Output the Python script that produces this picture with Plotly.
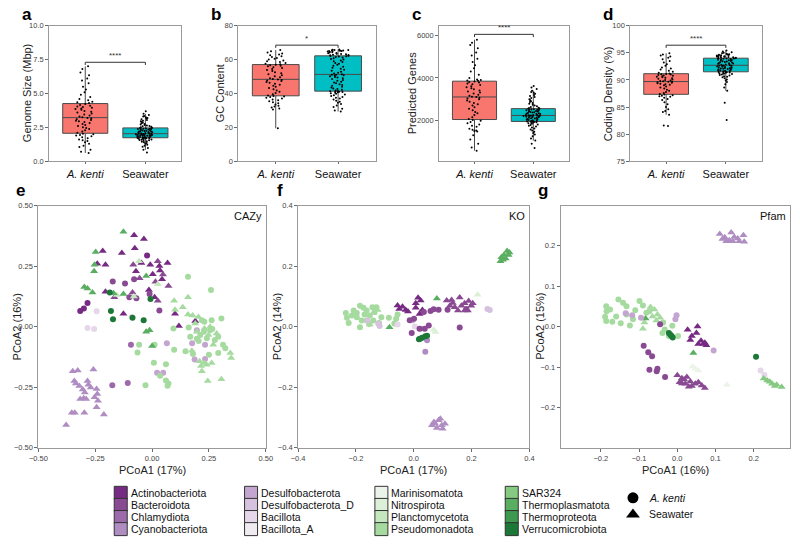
import plotly.graph_objects as go

W, H = 800, 547
FONT = "Liberation Sans, Arial, sans-serif"

# ---------------- categories / styles ----------------
habitats = ["A. kenti", "Seawater"]
habitat_fill = ["#F8766D", "#00BFC4"]
habitat_symbol = ["circle", "triangle-up"]
habitat_size = [6, 7]

phyla = ["Actinobacteriota", "Bacteroidota", "Chlamydiota", "Cyanobacteriota",
         "Desulfobacterota", "Desulfobacterota_D", "Bacillota", "Bacillota_A",
         "Marinisomatota", "Nitrospirota", "Planctomycetota", "Pseudomonadota",
         "SAR324", "Thermoplasmatota", "Thermoproteota", "Verrucomicrobiota"]
phylum_colors = ["#762a83", "#8a4a93", "#9c6aaa", "#af8dc3",
                 "#c3a5d0", "#d6c1de", "#e6d6e9", "#f0eaf1",
                 "#ecf4ea", "#dbf0d6", "#c4e7bd", "#a6dba0",
                 "#86c982", "#5aae61", "#3d9850", "#1b7837"]

# ---------------- box plot data ----------------
genome_kenti = [0.62, 0.70, 0.85, 1.05, 1.15, 1.30, 1.40, 1.50, 1.55, 1.62, 1.70, 1.78, 1.85, 1.90, 1.95, 2.00, 2.04,
                2.10, 2.2, 2.3, 2.38, 2.45, 2.52, 2.6, 2.68, 2.75, 2.82, 2.9, 2.95, 3.0, 3.05, 3.1, 3.15, 3.2,
                3.25, 3.3, 3.38, 3.45, 3.52, 3.6, 3.65, 3.72, 3.8, 3.85, 3.9, 3.95, 4.0, 4.05, 4.1, 4.15, 4.22,
                4.3, 4.35, 4.4, 4.5, 4.6, 4.75, 4.9, 5.1, 5.3, 5.5, 5.75, 5.95, 6.1, 6.35, 6.55, 6.8, 7.0]
genome_sea = [0.65, 0.85, 0.98, 1.08, 1.15, 1.22, 1.3, 1.35, 1.4, 1.45, 1.48, 1.52, 1.55, 1.58, 1.6, 1.62, 1.64, 1.66, 1.68, 1.69, 1.7, 1.71, 1.72, 1.73,
              1.75, 1.76, 1.78, 1.79, 1.8, 1.82, 1.83, 1.85, 1.86, 1.88, 1.89, 1.9, 1.92, 1.93, 1.94, 1.95, 1.96, 1.97, 1.98, 1.99, 2.0, 2.01, 2.02, 2.03,
              2.05, 2.07, 2.09, 2.1, 2.12, 2.14, 2.16, 2.18, 2.2, 2.22, 2.24, 2.26, 2.28, 2.3, 2.32, 2.34, 2.36, 2.38, 2.39, 2.4, 2.41, 2.43, 2.44, 2.45,
              2.48, 2.52, 2.55, 2.58, 2.6, 2.64, 2.68, 2.72, 2.75, 2.8, 2.85, 2.9, 2.95, 3.0, 3.05, 3.1, 3.15, 3.2, 3.25, 3.3, 3.35, 3.42, 3.5, 3.7]

gc_kenti = [19.5, 30.5, 31.2, 31.8, 32.3, 32.8, 33.5, 34.2, 34.8, 35.5, 36.0, 36.5, 37.0, 37.5, 37.9, 38.2, 38.5,
            38.8, 39.5, 40.3, 41.0, 41.8, 42.5, 43.2, 44.0, 44.6, 45.2, 45.8, 46.3, 46.8, 47.3, 47.7, 48.0, 48.2,
            48.5, 49.0, 49.6, 50.2, 50.8, 51.4, 52.0, 52.6, 53.2, 53.8, 54.4, 55.0, 55.5, 56.0, 56.4, 56.7, 56.9,
            57.2, 57.6, 58.0, 58.5, 59.0, 59.5, 60.0, 60.5, 61.0, 61.5, 62.0, 62.5, 63.0, 63.6, 64.2, 64.9, 65.6]
gc_sea = [29.4, 30.0, 31.0, 32.0, 33.0, 33.8, 34.5, 35.2, 35.8, 36.4, 37.0, 37.5, 38.0, 38.5, 39.0, 39.4, 39.8, 40.1, 40.4, 40.7, 40.9, 41.1, 41.2, 41.3,
          41.5, 41.8, 42.2, 42.6, 43.0, 43.5, 44.0, 44.5, 45.0, 45.5, 46.0, 46.5, 47.0, 47.5, 48.0, 48.5, 49.0, 49.4, 49.8, 50.2, 50.5, 50.8, 51.0, 51.1,
          51.4, 51.8, 52.3, 52.8, 53.4, 54.0, 54.6, 55.2, 55.8, 56.4, 57.0, 57.5, 58.0, 58.5, 59.0, 59.5, 60.0, 60.4, 60.8, 61.2, 61.5, 61.8, 62.0, 62.1,
          62.3, 62.5, 62.7, 62.9, 63.1, 63.3, 63.5, 63.7, 63.9, 64.1, 64.3, 64.5, 64.7, 64.9, 65.0, 65.1, 65.2, 65.3, 65.4, 65.5, 65.6, 65.7, 65.8, 66.0]

genes_kenti = [575, 720, 900, 1100, 1300, 1480, 1500, 1520, 1560, 1600, 1700, 1750, 1800, 1860, 1920, 1980, 2020,
               2060, 2150, 2250, 2330, 2400, 2480, 2550, 2620, 2700, 2760, 2820, 2880, 2940, 2990, 3030, 3070, 3095,
               3110, 3160, 3210, 3260, 3310, 3360, 3410, 3460, 3510, 3560, 3610, 3660, 3700, 3740, 3780, 3810, 3830,
               3860, 3880, 3900, 3920, 4000, 4150, 4300, 4450, 4600, 4750, 4900, 5050, 5200, 5400, 5550, 5650, 5800]
genes_sea = [700, 900, 1050, 1150, 1250, 1330, 1400, 1460, 1520, 1570, 1620, 1670, 1710, 1750, 1780, 1810, 1840, 1860, 1880, 1900, 1915, 1925, 1935, 1945,
             1955, 1970, 1985, 2000, 2015, 2030, 2045, 2060, 2075, 2090, 2105, 2120, 2135, 2150, 2160, 2170, 2180, 2190, 2200, 2208, 2215, 2220, 2225, 2228,
             2235, 2245, 2255, 2265, 2280, 2295, 2310, 2325, 2340, 2355, 2370, 2385, 2400, 2415, 2430, 2445, 2460, 2475, 2490, 2505, 2515, 2525, 2535, 2545,
             2560, 2580, 2600, 2630, 2660, 2700, 2740, 2780, 2820, 2860, 2900, 2950, 3000, 3050, 3100, 3150, 3200, 3250, 3300, 3330, 3400, 3480, 3550, 3620]

coding_kenti = [81.5, 81.6, 83.6, 84.1, 84.3, 84.6, 85.0, 85.5, 85.9, 86.3, 86.5, 86.7, 86.9, 87.0, 87.1, 87.2, 87.3,
                87.4, 87.6, 87.8, 88.0, 88.2, 88.4, 88.6, 88.8, 89.0, 89.1, 89.2, 89.3, 89.4, 89.5, 89.55, 89.6, 89.65,
                89.75, 89.8, 89.9, 90.0, 90.1, 90.2, 90.3, 90.4, 90.5, 90.6, 90.7, 90.75, 90.8, 90.9, 91.0, 91.05, 91.1,
                91.2, 91.3, 91.5, 91.7, 91.9, 92.1, 92.3, 92.6, 92.9, 93.2, 93.5, 93.8, 94.1, 94.3, 94.5, 94.7, 94.9]
coding_sea = [82.6, 85.8, 88.0, 88.6, 89.2, 89.6, 89.9, 90.1, 90.3, 90.5, 90.6, 90.7, 90.8, 90.9, 91.0, 91.1, 91.15, 91.2, 91.25, 91.3, 91.35, 91.4, 91.45, 91.48,
              91.52, 91.6, 91.65, 91.7, 91.75, 91.8, 91.85, 91.9, 91.95, 92.0, 92.05, 92.1, 92.15, 92.2, 92.25, 92.3, 92.35, 92.4, 92.45, 92.5, 92.55, 92.6, 92.65, 92.68,
              92.72, 92.78, 92.84, 92.9, 92.96, 93.02, 93.08, 93.14, 93.2, 93.26, 93.32, 93.38, 93.44, 93.5, 93.56, 93.62, 93.68, 93.74, 93.8, 93.85, 93.9, 93.94, 93.97, 93.99,
              94.02, 94.06, 94.1, 94.14, 94.18, 94.22, 94.26, 94.3, 94.34, 94.38, 94.42, 94.46, 94.5, 94.55, 94.6, 94.65, 94.7, 94.75, 94.8, 94.9, 95.0, 95.1, 95.25, 95.4]

box_titles = ["Genome Size (Mbp)", "GC Content", "Predicted Genes", "Coding Density (%)"]
box_letters = ["a", "b", "c", "d"]
box_ranges = [[0, 10], [0, 80], [70, 6460], [75, 100]]
box_ticks = [[0, 2.5, 5, 7.5, 10], [0, 20, 40, 60, 80], [2000, 4000, 6000], [75, 80, 85, 90, 95, 100]]
box_tickfmt = [".1f", "d", "d", "d"]
sig_y = [7.3, 68.5, 6050, 96.4]
sig_label = ["****", "*", "****", "****"]

# ---------------- PCoA data: (phylum index, habitat index, [(PCoA1, PCoA2), ...]) ----------------
cazy_pts = [
    (0, 1, [(-0.079, 0.378), (-0.036, 0.362), (-0.133, 0.304), (-0.217, 0.313), (-0.241, 0.260), (-0.205, 0.256),
            (-0.076, 0.324), (-0.047, 0.263), (-0.071, 0.229), (-0.008, 0.256), (0.032, 0.250), (0.035, 0.232),
            (0.068, 0.263), (0.003, 0.216), (0.044, 0.196), (-0.014, 0.151), (0.011, 0.121), (-0.205, 0.144),
            (-0.126, 0.053), (0.101, 0.053), (0.118, 0.003), (0.190, 0.023)]),
    (1, 1, [(-0.083, 0.256), (0.025, 0.270), (0.072, 0.168), (0.025, 0.107), (-0.166, 0.121), (-0.086, 0.141),
            (0.048, 0.215), (-0.055, 0.200), (0.015, 0.185)]),
    (0, 0, [(-0.316, 0.064), (-0.300, 0.075), (-0.284, 0.098), (-0.022, 0.294)]),
    (1, 0, [(-0.173, 0.186), (-0.119, 0.178), (-0.079, 0.196), (-0.100, 0.121), (-0.069, 0.117), (-0.011, 0.135),
            (0.032, 0.067)]),
    (2, 0, [(-0.175, -0.242), (-0.107, -0.233), (-0.093, -0.075)]),
    (3, 1, [(-0.349, -0.184), (-0.327, -0.181), (-0.342, -0.225), (-0.335, -0.235), (-0.320, -0.245), (-0.284, -0.225),
            (-0.280, -0.240), (-0.258, -0.177), (-0.270, -0.252), (-0.244, -0.258), (-0.241, -0.279), (-0.296, -0.272),
            (-0.301, -0.296), (-0.316, -0.299), (-0.290, -0.299), (-0.253, -0.292), (-0.238, -0.306), (-0.244, -0.333),
            (-0.353, -0.356), (-0.340, -0.356), (-0.298, -0.356), (-0.212, -0.363), (-0.378, -0.407), (-0.305, -0.260)]),
    (4, 0, [(0.022, -0.191), (0.049, -0.191), (0.065, -0.069), (0.176, -0.069), (0.197, -0.015), (0.233, -0.075),
            (0.233, -0.134), (0.187, -0.136)]),
    (6, 0, [(-0.284, -0.006), (-0.255, -0.010), (-0.244, 0.063), (-0.090, 0.040)]),
    (11, 0, [(0.158, 0.206), (0.259, 0.151), (0.305, 0.033), (0.094, -0.008), (0.161, -0.004), (0.219, 0.026),
             (0.230, 0.020), (0.262, 0.026), (0.265, -0.010), (0.255, -0.015), (0.228, -0.021), (0.212, -0.035),
             (0.168, -0.042), (0.197, -0.050), (0.241, -0.048), (0.276, -0.055), (0.291, -0.042), (0.312, -0.075),
             (0.322, -0.089), (0.291, -0.109), (0.250, -0.116), (0.180, -0.113), (0.147, -0.102), (0.097, -0.096),
             (0.011, -0.075), (-0.057, -0.075), (-0.064, -0.107), (0.008, -0.149), (0.061, -0.156), (0.035, -0.203),
             (0.061, -0.223), (0.068, -0.244), (0.072, -0.235), (-0.029, -0.242), (0.205, -0.060)]),
    (11, 1, [(0.158, 0.121), (0.135, 0.080), (0.158, 0.050), (0.178, 0.046), (0.204, 0.040), (0.190, 0.013),
             (0.197, -0.021), (0.230, -0.008), (0.255, -0.001), (0.248, -0.035), (0.284, -0.028), (0.269, -0.075),
             (0.262, -0.150), (0.209, -0.143), (0.230, -0.150), (0.240, -0.158), (0.219, -0.184), (0.245, -0.225),
             (0.305, -0.218), (0.344, -0.109), (0.348, -0.130), (0.215, -0.163), (0.175, -0.100), (0.097, 0.107),
             (0.101, 0.070)]),
    (10, 1, [(-0.080, 0.124), (-0.155, 0.131), (-0.057, 0.270), (0.025, 0.175)]),
    (13, 1, [(-0.126, 0.392), (-0.248, 0.308), (-0.253, 0.256), (-0.255, 0.229), (-0.298, 0.164), (-0.284, 0.158),
             (-0.262, 0.141), (-0.126, 0.135), (-0.169, 0.138), (-0.026, -0.021), (-0.011, -0.015), (0.000, -0.080),
             (-0.026, 0.209)]),
    (15, 0, [(-0.186, 0.141), (-0.181, 0.064), (-0.172, 0.030), (-0.086, 0.037), (-0.037, 0.026), (-0.007, 0.114)]),
]

ko_pts = [
    (11, 0, [(-0.231, 0.029), (-0.225, 0.012), (-0.208, 0.053), (-0.197, 0.031), (-0.186, 0.069), (-0.174, 0.062),
             (-0.180, 0.020), (-0.163, 0.053), (-0.152, 0.037), (-0.143, 0.064), (-0.135, 0.048), (-0.129, 0.064),
             (-0.186, -0.002), (-0.154, 0.009), (-0.112, 0.031), (-0.086, 0.029), (-0.061, 0.026), (-0.067, 0.010),
             (-0.056, 0.040), (-0.197, 0.045), (-0.214, 0.037), (-0.163, 0.020), (-0.140, 0.020), (-0.120, 0.012),
             (-0.235, 0.045), (-0.170, 0.040)]),
    (11, 1, [(-0.152, 0.007), (-0.140, 0.045), (-0.125, 0.055)]),
    (13, 1, [(-0.084, -0.002), (0.080, 0.093), (0.312, 0.237), (0.303, 0.229), (0.323, 0.250), (0.328, 0.237),
             (0.309, 0.221), (0.318, 0.225), (0.300, 0.216), (0.331, 0.245)]),
    (9, 1, [(0.069, -0.010), (0.075, -0.018), (0.221, 0.105)]),
    (5, 0, [(-0.123, 0.010), (-0.118, 0.002), (-0.160, 0.020), (0.255, 0.058), (0.263, 0.055)]),
    (6, 0, [(-0.056, 0.007), (0.004, 0.000)]),
    (4, 0, [(-0.005, 0.021), (0.024, -0.007)]),
    (0, 1, [(-0.050, 0.058), (-0.039, 0.066), (-0.028, 0.055), (-0.056, 0.070), (0.007, 0.077), (0.024, 0.086),
            (0.007, 0.062), (0.030, 0.055), (0.020, 0.042), (-0.020, 0.050), (0.015, 0.095)]),
    (1, 1, [(0.114, 0.086), (0.131, 0.088), (0.159, 0.096), (0.165, 0.069), (0.176, 0.077), (0.187, 0.053),
            (0.199, 0.069), (0.142, 0.064), (0.125, 0.069), (0.153, 0.053), (0.204, 0.077), (0.176, 0.053),
            (0.135, 0.078), (0.190, 0.085)]),
    (1, 0, [(0.001, 0.026), (0.035, 0.048), (0.052, 0.004), (0.069, 0.057), (0.086, 0.056), (0.058, 0.052),
            (-0.007, -0.021), (0.020, -0.007), (0.038, -0.007), (0.159, -0.003), (-0.014, 0.021), (0.117, 0.056),
            (0.182, 0.058)]),
    (3, 0, [(0.046, -0.045), (0.040, -0.083)]),
    (15, 0, [(0.018, -0.042), (0.029, -0.037), (0.040, -0.032), (0.046, -0.030), (0.022, -0.040)]),
    (3, 1, [(0.074, -0.321), (0.086, -0.310), (0.097, -0.326), (0.063, -0.326), (0.108, -0.321), (0.080, -0.335),
            (0.092, -0.305), (0.070, -0.315), (0.100, -0.338)]),
]

pfam_pts = [
    (3, 1, [(0.111, 0.228), (0.124, 0.220), (0.141, 0.232), (0.149, 0.221), (0.136, 0.213), (0.158, 0.217),
            (0.173, 0.225), (0.175, 0.209), (0.128, 0.210), (0.118, 0.216), (0.162, 0.210), (0.145, 0.210)]),
    (11, 0, [(-0.186, 0.050), (-0.185, 0.038), (-0.189, 0.024), (-0.186, 0.014), (-0.176, 0.042), (-0.154, 0.067),
             (-0.142, 0.059), (-0.133, 0.050), (-0.148, 0.008), (-0.133, 0.030), (-0.124, 0.003), (-0.116, 0.018),
             (-0.099, 0.063), (-0.090, 0.052), (-0.073, 0.038), (-0.081, 0.034), (-0.039, -0.016), (-0.033, -0.007),
             (-0.022, -0.023), (0.002, -0.023), (-0.037, 0.010), (-0.013, 0.002), (-0.160, 0.025), (-0.170, 0.012),
             (-0.110, 0.040)]),
    (11, 1, [(-0.086, 0.010), (-0.090, -0.005), (-0.060, 0.042), (-0.052, 0.030), (-0.045, 0.022), (-0.065, 0.025),
             (-0.070, 0.048), (-0.055, 0.015)]),
    (13, 1, [(-0.083, 0.020), (0.042, -0.065)]),
    (4, 0, [(-0.135, 0.033), (-0.118, 0.028), (-0.095, 0.022), (-0.002, 0.028), (-0.005, 0.018), (0.095, -0.059)]),
    (6, 0, [(0.218, -0.108), (0.228, -0.119)]),
    (0, 1, [(0.027, -0.008), (0.053, 0.000), (0.038, -0.023), (0.050, -0.016), (0.034, -0.033), (0.062, -0.035),
            (0.068, -0.043), (0.072, -0.040), (0.055, -0.043), (0.076, -0.046)]),
    (1, 0, [(-0.088, -0.047), (-0.076, -0.063), (-0.066, -0.073), (-0.073, -0.106), (-0.052, -0.104), (-0.054, -0.110),
            (-0.032, -0.124), (-0.045, 0.006)]),
    (1, 1, [(0.000, -0.120), (0.012, -0.127), (0.025, -0.124), (0.006, -0.137), (0.021, -0.141), (0.034, -0.135),
            (0.047, -0.141), (0.055, -0.137), (0.064, -0.145), (0.072, -0.151), (0.038, -0.146), (0.012, -0.140),
            (0.030, -0.148), (0.018, -0.130)]),
    (15, 0, [(-0.022, -0.016), (-0.015, -0.023), (-0.012, -0.027), (-0.018, -0.020), (0.206, -0.074)]),
    (8, 1, [(0.047, -0.104), (0.055, -0.108), (0.130, -0.143), (0.040, -0.098)]),
    (12, 1, [(0.226, -0.128), (0.235, -0.133), (0.248, -0.141), (0.260, -0.143), (0.273, -0.149), (0.242, -0.136),
             (0.255, -0.146)]),
]

pcoa_sets = [cazy_pts, ko_pts, pfam_pts]
pcoa_names = ["CAZy", "KO", "Pfam"]
pcoa_letters = ["e", "f", "g"]
pcoa_xtitles = ["PCoA1 (17%)", "PCoA1 (17%)", "PCoA1 (16%)"]
pcoa_ytitles = ["PCoA2 (16%)", "PCoA2 (14%)", "PCoA2 (15%)"]
pcoa_xrange = [[-0.5, 0.5], [-0.4, 0.4], [-0.305, 0.295]]
pcoa_yrange = [[-0.5, 0.5], [-0.4, 0.4], [-0.298, 0.298]]
pcoa_ticks = [[-0.5, -0.25, 0, 0.25, 0.5], [-0.4, -0.2, 0, 0.2, 0.4], [-0.2, -0.1, 0, 0.1, 0.2]]
pcoa_tickfmt = [".2f", ".1f", ".1f"]

# ---------------- layout geometry (pixels) ----------------
box_x_px = [(41, 176), (234, 374), (439, 571), (634, 768)]
box_title_px = [18, 215, 411, 611]
box_y_px = (22, 160)
pcoa_x_px = [(30, 262), (295, 531), (563, 797)]
pcoa_y_px = (205, 451)


def xd(a, b):
    return [a / W, b / W]


def yd(top, bot):
    return [1 - bot / H, 1 - top / H]


def paper_text(px, py, text, size, angle=0, color="#222"):
    return dict(x=px / W, y=1 - py / H, xref="paper", yref="paper", text=text, textangle=angle,
                showarrow=False, xanchor="center", yanchor="middle",
                font=dict(size=size, color=color))


def axis_common():
    return dict(showline=True, mirror=True, linecolor="#9a9a9a", linewidth=1,
                ticks="outside", ticklen=3, tickcolor="#6a6a6a", tickwidth=1,
                tickfont=dict(size=7.5, color="#444", family=FONT),
                showgrid=False, zeroline=False)


fig = go.Figure()
layout = dict(width=W, height=H, margin=dict(l=0, r=0, t=0, b=0),
              paper_bgcolor="white", plot_bgcolor="white", showlegend=False,
              font=dict(family=FONT, color="#222"))
annotations = []
shapes = []

box_data = [(genome_kenti, genome_sea), (gc_kenti, gc_sea), (genes_kenti, genes_sea), (coding_kenti, coding_sea)]

for i in range(4):
    n = i + 1
    xa, ya = ("x" if n == 1 else f"x{n}"), ("y" if n == 1 else f"y{n}")
    xk, yk = ("xaxis" if n == 1 else f"xaxis{n}"), ("yaxis" if n == 1 else f"yaxis{n}")
    for h in range(2):
        vals = box_data[i][h]
        fig.add_trace(go.Box(y=vals, x0=h + 1, width=0.75, boxpoints="all", jitter=0.45, pointpos=0,
                             fillcolor=habitat_fill[h], line=dict(color="#4a4a4a", width=1),
                             whiskerwidth=0, marker=dict(color="black", size=2),
                             xaxis=xa, yaxis=ya, showlegend=False, hoverinfo="skip"))
    ax = axis_common()
    ax.update(domain=xd(*box_x_px[i]), range=[0.4, 2.6], tickvals=[1, 2],
              ticktext=["<i>" + habitats[0] + "</i>", habitats[1]], anchor=ya,
              tickfont=dict(size=11, color="#111", family=FONT), ticklen=2)
    layout[xk] = ax
    ay = axis_common()
    ay.update(domain=yd(*box_y_px), range=box_ranges[i], tickvals=box_ticks[i],
              tickformat=box_tickfmt[i], anchor=xa)
    layout[yk] = ay
    # significance bracket
    rng = box_ranges[i][1] - box_ranges[i][0]
    tip = 0.02 * rng
    s = sig_y[i]
    shapes.append(dict(type="path", xref=xa, yref=ya,
                       path=f"M 1,{s - tip} L 1,{s} L 2,{s} L 2,{s - tip}",
                       line=dict(color="#333", width=1)))
    annotations.append(dict(x=1.5, y=s, xref=xa, yref=ya, text=sig_label[i], showarrow=False,
                            xanchor="center", yanchor="bottom", yshift=0, font=dict(size=8, color="#333")))
    annotations.append(paper_text(box_title_px[i], (box_y_px[0] + box_y_px[1]) / 2, box_titles[i], 11, -90))
    annotations.append(paper_text(box_x_px[i][0] - 23, 11, "<b>" + box_letters[i] + "</b>", 17, 0, "#000"))

for j in range(3):
    n = j + 5
    xa, ya = f"x{n}", f"y{n}"
    for (p, h, pts) in pcoa_sets[j]:
        fig.add_trace(go.Scatter(x=[q[0] for q in pts], y=[q[1] for q in pts], mode="markers",
                                 marker=dict(symbol=habitat_symbol[h], size=habitat_size[h],
                                             color=phylum_colors[p], line=dict(width=0)),
                                 xaxis=xa, yaxis=ya, showlegend=False, hoverinfo="skip"))
    ax = axis_common()
    ax.update(domain=xd(*pcoa_x_px[j]), range=pcoa_xrange[j], tickvals=pcoa_ticks[j],
              tickformat=pcoa_tickfmt[j], anchor=ya)
    layout[f"xaxis{n}"] = ax
    ay = axis_common()
    ay.update(domain=yd(*pcoa_y_px), range=pcoa_yrange[j], tickvals=pcoa_ticks[j],
              tickformat=pcoa_tickfmt[j], anchor=xa)
    layout[f"yaxis{n}"] = ay
    x0, x1 = pcoa_x_px[j]
    annotations.append(dict(x=1, y=1, xref=f"{xa} domain", yref=f"{ya} domain", text=pcoa_names[j],
                            showarrow=False, xanchor="right", yanchor="top", xshift=-2, yshift=-2,
                            font=dict(size=11, color="#111")))
    annotations.append(paper_text((x0 + x1) / 2, 474, pcoa_xtitles[j], 11))
    annotations.append(paper_text(x0 - 22, (pcoa_y_px[0] + pcoa_y_px[1]) / 2, pcoa_ytitles[j], 11, -90))
    annotations.append(paper_text(x0 - 18, 190, "<b>" + pcoa_letters[j] + "</b>", 17, 0, "#000"))

# ---------------- legend (own hidden axes, columns/rows as units) ----------------
leg_cols = [i // 4 for i in range(len(phyla))]
leg_rows = [i % 4 for i in range(len(phyla))]
fig.add_trace(go.Scatter(x=leg_cols, y=leg_rows, mode="markers",
                         marker=dict(symbol="square", size=13, color=phylum_colors,
                                     line=dict(color="#333", width=1)),
                         xaxis="x8", yaxis="y8", showlegend=False, hoverinfo="skip"))
for i, name in enumerate(phyla):
    annotations.append(dict(x=leg_cols[i], y=leg_rows[i], xref="x8", yref="y8", text=name,
                            showarrow=False, xanchor="left", yanchor="middle", xshift=8,
                            font=dict(size=10.5, color="#111")))
shape_col = 3.93
shape_rows = [0.41, 1.79]
for h in range(2):
    fig.add_trace(go.Scatter(x=[shape_col], y=[shape_rows[h]], mode="markers",
                             marker=dict(symbol=habitat_symbol[h], size=11 + h, color="black"),
                             xaxis="x8", yaxis="y8", showlegend=False, hoverinfo="skip"))
    label = "<i>" + habitats[h] + "</i>" if h == 0 else habitats[h]
    annotations.append(dict(x=shape_col, y=shape_rows[h], xref="x8", yref="y8", text=label,
                            showarrow=False, xanchor="left", yanchor="middle", xshift=14,
                            font=dict(size=10.5, color="#111")))

layout["xaxis8"] = dict(domain=[0, 1], range=[-114 / 133, (800 - 114) / 133], visible=False)
layout["yaxis8"] = dict(domain=[0, 87.5 / H], range=[(547 - 497) / 12.3, (459.5 - 497) / 12.3],
                        visible=False, anchor="x8")
layout["annotations"] = annotations
layout["shapes"] = shapes
fig.update_layout(**layout)
fig.write_html("out.html")
